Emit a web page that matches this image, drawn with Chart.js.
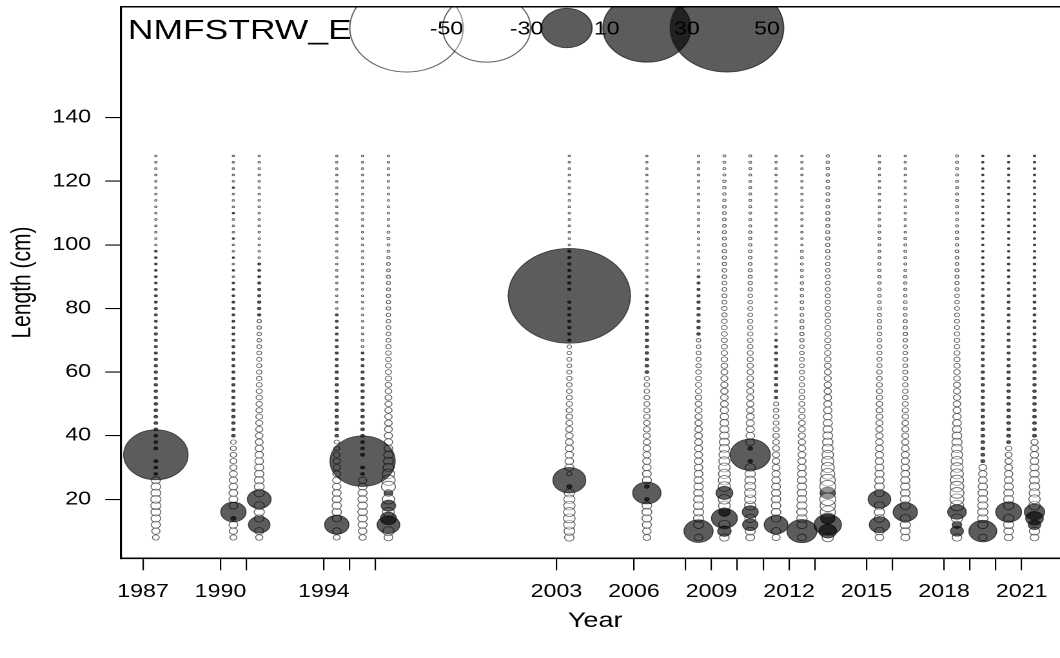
<!DOCTYPE html>
<html>
<head>
<meta charset="utf-8">
<title>NMFSTRW_E length composition residuals</title>
<script src="https://cdn.jsdelivr.net/npm/chart.js@4.4.1/dist/chart.umd.min.js"></script>
<style>
    html, body { margin: 0; padding: 0; background: #fff; overflow: hidden; }
    #wrap { width: 1060px; height: 658px; overflow: hidden; position: relative; }
    /* the source picture is stretched sideways, so draw narrow and stretch */
    #stretch { width: 845px; height: 658px; transform: scaleX(1.2895); transform-origin: 0 0; }
</style>
</head>
<body>
<div id="wrap"><div id="stretch"><canvas id="bubbleChart" width="845" height="658"></canvas></div></div>
<script>
const fleetName = 'NMFSTRW_E';

// survey years (bubbles sit at mid-year)
const years = [1987, 1990, 1991, 1994, 1995, 1996, 2003, 2006, 2008, 2009,
               2010, 2011, 2012, 2013, 2015, 2016, 2018, 2019, 2020, 2021];
const labeledYears = [1987, 1990, 1994, 2003, 2006, 2009, 2012, 2015, 2018, 2021];
const yTicks = [20, 40, 60, 80, 100, 120, 140];

// length bins (cm)
const lengthBins = [8, 10, 12, 14, 16, 18, 20, 22, 24, 26,
                    28, 30, 32, 34, 36, 38, 40, 42, 44, 46,
                    48, 50, 52, 54, 56, 58, 60, 62, 64, 66,
                    68, 70, 72, 74, 76, 78, 80, 82, 84, 86,
                    88, 90, 92, 94, 96, 98, 100, 102, 104, 106,
                    108, 110, 112, 114, 116, 118, 120, 122, 124, 126,
                    128];

// residuals per year, one per length bin (positive = filled, negative = open)
const resid1987 = [-0.18, -0.26, -0.32, -0.36, -0.38, -0.4, -0.4, -0.38, -0.36, -0.32,
    0.05, 0.05, 0.06, 16.1, 0.06, 0.05, 0.05, 0.05, 0.05, 0.05,
    0.05, 0.045, 0.045, 0.04, 0.04, 0.04, 0.04, 0.04, 0.04, 0.035,
    0.035, 0.035, 0.035, 0.03, 0.03, 0.03, 0.03, 0.03, 0.03, 0.03,
    0.025, 0.025, 0.025, 0.025, 0.025, 0.025, -0.02, -0.02, -0.02, -0.02,
    -0.02, -0.02, -0.02, -0.02, -0.02, -0.02, -0.02, -0.02, -0.02, -0.02,
    -0.02];
const resid1990 = [-0.18, -0.26, -0.3, 0.1, 2.5, -0.3, -0.3, -0.3, -0.28, -0.26,
    -0.23, -0.2, -0.18, -0.16, -0.14, -0.12, 0.05, 0.045, 0.045, 0.045,
    0.045, 0.04, 0.04, 0.04, 0.04, 0.04, 0.035, 0.035, 0.035, 0.035,
    0.035, 0.03, 0.03, 0.03, 0.03, 0.03, 0.03, 0.03, 0.025, 0.025,
    0.025, -0.02, 0.02, -0.02, 0.02, -0.02, -0.02, 0.02, -0.02, -0.02,
    -0.02, 0.02, -0.02, -0.02, -0.02, 0.02, -0.02, -0.02, -0.02, -0.02,
    -0.02];
const resid1991 = [-0.2, -0.32, 1.8, -0.36, -0.4, -0.4, 2.2, -0.4, -0.38, -0.36,
    -0.34, -0.32, -0.3, -0.28, -0.26, -0.24, -0.22, -0.2, -0.19, -0.18,
    -0.17, -0.16, -0.15, -0.14, -0.13, -0.12, -0.11, -0.1, -0.1, -0.09,
    -0.09, -0.08, -0.08, -0.07, -0.07, 0.04, 0.04, 0.04, 0.035, 0.035,
    0.035, 0.03, 0.03, 0.03, -0.02, -0.02, -0.02, -0.02, -0.02, -0.02,
    -0.02, -0.02, -0.02, -0.02, -0.02, -0.02, -0.02, -0.02, -0.02, -0.02,
    -0.02];
const resid1994 = [-0.18, -0.28, 2.3, -0.32, -0.34, -0.34, -0.32, -0.3, -0.28, -0.26,
    -0.24, -0.22, -0.2, -0.17, -0.14, -0.1, 0.05, 0.05, 0.045, 0.045,
    0.045, 0.045, 0.04, 0.04, 0.04, 0.04, 0.04, 0.035, 0.035, 0.035,
    0.035, 0.03, 0.03, 0.03, 0.03, 0.03, -0.02, -0.02, -0.02, -0.02,
    -0.02, -0.02, -0.02, -0.02, -0.02, -0.02, -0.02, -0.02, -0.02, -0.02,
    -0.02, -0.02, -0.02, -0.02, -0.02, -0.02, -0.02, -0.02, -0.02, -0.02,
    -0.02];
const resid1995 = [-0.2, -0.28, -0.32, -0.35, -0.36, -0.36, -0.34, -0.32, -0.3, -0.26,
    0.05, 0.06, 16.5, 0.06, 0.05, 0.05, 0.05, 0.05, 0.045, 0.045,
    0.045, 0.04, 0.04, 0.04, 0.04, 0.04, 0.035, 0.035, 0.035, 0.03,
    -0.03, -0.03, -0.02, -0.02, -0.02, -0.02, -0.02, -0.02, -0.02, -0.02,
    -0.02, -0.02, -0.02, -0.02, -0.02, -0.02, -0.02, -0.02, -0.02, -0.02,
    -0.02, -0.02, -0.02, -0.02, -0.02, -0.02, -0.02, -0.02, -0.02, -0.02,
    -0.02];
const resid1996 = [-0.3, -0.5, 2.0, 1.0, -0.55, 0.8, -0.6, 0.3, -0.75, -0.7,
    -0.6, -0.45, -0.38, -0.34, -0.3, -0.28, -0.26, -0.24, -0.22, -0.21,
    -0.2, -0.19, -0.18, -0.17, -0.16, -0.15, -0.14, -0.13, -0.12, -0.12,
    -0.11, -0.1, -0.09, -0.09, -0.08, -0.08, -0.07, -0.07, -0.07, -0.06,
    -0.06, -0.06, -0.05, -0.05, -0.04, -0.03, -0.03, -0.03, -0.03, -0.02,
    -0.02, -0.02, -0.02, -0.02, -0.02, -0.02, -0.02, -0.02, -0.02, -0.02,
    -0.02];
const resid2003 = [-0.35, -0.45, -0.5, -0.52, -0.52, -0.5, -0.48, -0.42, 0.1, 4.2,
    -0.1, -0.32, -0.3, -0.28, -0.26, -0.24, -0.22, -0.2, -0.18, -0.17,
    -0.16, -0.15, -0.14, -0.13, -0.12, -0.11, -0.1, -0.09, -0.09, -0.08,
    -0.08, 0.04, 0.04, 0.04, 0.04, 0.04, 0.04, 0.04, 58, 0.04,
    0.04, 0.04, 0.04, 0.04, 0.04, 0.04, -0.02, -0.02, -0.02, -0.02,
    -0.02, -0.02, -0.02, -0.02, -0.02, -0.02, -0.02, -0.02, -0.02, -0.02,
    -0.02];
const resid2006 = [-0.22, -0.28, -0.32, -0.36, -0.38, -0.36, 0.08, 3.1, 0.08, -0.32,
    -0.3, -0.28, -0.26, -0.24, -0.22, -0.2, -0.19, -0.18, -0.17, -0.16,
    -0.15, -0.14, -0.13, -0.12, -0.11, -0.1, 0.05, 0.05, 0.05, 0.045,
    0.045, 0.045, 0.04, 0.04, 0.04, 0.04, 0.035, 0.035, 0.035, -0.02,
    -0.02, -0.02, -0.02, -0.02, -0.02, -0.02, -0.02, -0.02, -0.02, -0.02,
    -0.02, -0.02, -0.02, -0.02, -0.02, -0.02, -0.02, -0.02, -0.02, -0.02,
    -0.02];
const resid2008 = [-0.28, 3.3, -0.38, -0.4, -0.4, -0.4, -0.38, -0.36, -0.34, -0.32,
    -0.3, -0.28, -0.27, -0.26, -0.25, -0.24, -0.23, -0.22, -0.2, -0.19,
    -0.18, -0.17, -0.16, -0.15, -0.14, -0.13, -0.12, -0.11, -0.1, -0.09,
    -0.08, -0.08, 0.045, 0.045, 0.04, 0.04, 0.04, 0.04, 0.035, 0.035,
    0.035, 0.03, -0.02, -0.02, -0.02, -0.02, -0.02, -0.02, -0.02, -0.02,
    -0.02, -0.02, -0.02, -0.02, -0.02, -0.02, -0.02, -0.02, -0.02, -0.02,
    -0.02];
const resid2009 = [-0.35, 0.7, -0.5, 2.6, 0.5, -0.55, -0.6, 1.1, -0.6, -0.58,
    -0.55, -0.52, -0.48, -0.45, -0.42, -0.39, -0.36, -0.33, -0.3, -0.28,
    -0.26, -0.24, -0.22, -0.21, -0.2, -0.19, -0.18, -0.17, -0.16, -0.15,
    -0.14, -0.13, -0.13, -0.12, -0.12, -0.11, -0.11, -0.1, -0.1, -0.09,
    -0.09, -0.08, -0.08, -0.07, -0.07, -0.07, -0.06, -0.06, -0.06, -0.05,
    -0.05, -0.05, -0.05, -0.04, -0.04, -0.04, -0.04, -0.03, -0.03, -0.03,
    -0.03];
const resid2010 = [-0.3, -0.4, 0.9, -0.45, 1.0, -0.5, -0.5, -0.5, -0.48, -0.45,
    -0.42, -0.4, 0.08, 6.3, 0.08, -0.3, -0.28, -0.26, -0.25, -0.24,
    -0.22, -0.21, -0.2, -0.19, -0.18, -0.17, -0.16, -0.15, -0.14, -0.13,
    -0.12, -0.12, -0.11, -0.1, -0.1, -0.09, -0.09, -0.08, -0.08, -0.07,
    -0.07, -0.06, -0.06, -0.05, -0.05, -0.05, -0.04, -0.04, -0.04, -0.03,
    -0.03, -0.03, -0.03, -0.03, -0.03, -0.03, -0.03, -0.03, -0.03, -0.03,
    -0.03];
const resid2011 = [-0.25, -0.34, 2.2, -0.36, -0.36, -0.35, -0.34, -0.32, -0.3, -0.28,
    -0.26, -0.24, -0.22, -0.2, -0.18, -0.17, -0.16, -0.14, -0.13, -0.12,
    -0.11, -0.1, 0.045, 0.045, 0.04, 0.04, 0.04, 0.04, 0.035, 0.035,
    0.035, 0.03, -0.02, -0.02, -0.02, -0.02, -0.02, -0.02, -0.02, -0.02,
    -0.02, -0.02, -0.02, -0.02, -0.02, -0.02, -0.02, -0.02, -0.02, -0.02,
    -0.02, -0.02, -0.02, -0.02, -0.02, -0.02, -0.02, -0.02, -0.02, -0.02,
    -0.02];
const resid2012 = [-0.3, 3.5, -0.4, -0.42, -0.42, -0.4, -0.38, -0.36, -0.34, -0.32,
    -0.3, -0.28, -0.26, -0.24, -0.22, -0.2, -0.19, -0.18, -0.17, -0.16,
    -0.15, -0.14, -0.13, -0.12, -0.11, -0.1, -0.1, -0.09, -0.09, -0.08,
    -0.08, -0.07, -0.07, -0.06, -0.06, -0.05, -0.05, -0.05, -0.04, -0.04,
    -0.04, -0.03, -0.03, -0.03, -0.03, -0.03, -0.02, -0.02, -0.02, -0.02,
    -0.02, -0.02, -0.02, -0.02, -0.02, -0.02, -0.02, -0.02, -0.02, -0.02,
    -0.02];
const resid2013 = [-0.5, 1.2, 2.9, 0.8, -0.9, -0.9, -1.0, 0.9, -1.0, -0.9,
    -0.75, -0.65, -0.58, -0.52, -0.47, -0.42, -0.38, -0.35, -0.32, -0.29,
    -0.27, -0.25, -0.23, -0.21, -0.2, -0.19, -0.18, -0.17, -0.16, -0.15,
    -0.14, -0.14, -0.13, -0.12, -0.12, -0.11, -0.11, -0.1, -0.1, -0.09,
    -0.09, -0.09, -0.08, -0.08, -0.08, -0.07, -0.07, -0.07, -0.06, -0.06,
    -0.06, -0.06, -0.05, -0.05, -0.05, -0.05, -0.04, -0.04, -0.04, -0.04,
    -0.04];
const resid2015 = [-0.28, -0.36, 1.6, -0.42, -0.42, -0.4, 2.0, -0.38, -0.36, -0.34,
    -0.32, -0.3, -0.28, -0.26, -0.24, -0.22, -0.21, -0.2, -0.19, -0.18,
    -0.17, -0.16, -0.15, -0.14, -0.13, -0.12, -0.11, -0.1, -0.1, -0.09,
    -0.09, -0.08, -0.08, -0.07, -0.07, -0.06, -0.06, -0.05, -0.05, -0.05,
    -0.04, -0.04, -0.04, -0.04, -0.03, -0.03, -0.03, -0.03, -0.03, -0.03,
    -0.02, -0.02, -0.02, -0.02, -0.02, -0.02, -0.02, -0.02, -0.02, -0.02,
    -0.02];
const resid2016 = [-0.3, -0.36, -0.4, -0.42, 2.3, -0.4, -0.38, -0.36, -0.34, -0.32,
    -0.3, -0.28, -0.26, -0.24, -0.22, -0.2, -0.19, -0.18, -0.17, -0.16,
    -0.15, -0.14, -0.13, -0.12, -0.11, -0.1, -0.1, -0.09, -0.09, -0.08,
    -0.08, -0.07, -0.07, -0.06, -0.06, -0.05, -0.05, -0.05, -0.04, -0.04,
    -0.04, -0.04, -0.03, -0.03, -0.03, -0.03, -0.03, -0.03, -0.02, -0.02,
    -0.02, -0.02, -0.02, -0.02, -0.02, -0.02, -0.02, -0.02, -0.02, -0.02,
    -0.02];
const resid2018 = [-0.35, 0.65, 0.35, -0.5, 1.35, -0.7, -0.75, -0.75, -0.72, -0.68,
    -0.64, -0.6, -0.55, -0.5, -0.45, -0.4, -0.36, -0.32, -0.29, -0.26,
    -0.24, -0.22, -0.2, -0.19, -0.18, -0.17, -0.16, -0.15, -0.14, -0.13,
    -0.12, -0.12, -0.11, -0.1, -0.1, -0.09, -0.09, -0.08, -0.08, -0.07,
    -0.07, -0.06, -0.06, -0.05, -0.05, -0.05, -0.04, -0.04, -0.04, -0.03,
    -0.03, -0.03, -0.03, -0.03, -0.03, -0.03, -0.03, -0.03, -0.03, -0.03,
    -0.03];
const resid2019 = [-0.28, 3.0, -0.4, -0.42, -0.42, -0.4, -0.38, -0.36, -0.33, -0.3,
    -0.27, -0.24, 0.06, 0.055, 0.055, 0.05, 0.05, 0.05, 0.045, 0.045,
    0.045, 0.045, 0.04, 0.04, 0.04, 0.04, 0.04, 0.035, 0.035, 0.035,
    0.035, 0.035, 0.03, 0.03, 0.03, 0.03, 0.03, 0.03, 0.03, 0.025,
    0.025, 0.025, 0.025, 0.025, 0.025, 0.02, 0.02, 0.02, 0.02, 0.02,
    0.02, 0.02, 0.02, 0.02, 0.02, 0.02, 0.02, 0.02, 0.02, 0.02,
    0.02];
const resid2020 = [-0.28, -0.36, -0.4, -0.42, 2.6, -0.42, -0.4, -0.37, -0.34, -0.3,
    -0.27, -0.24, -0.21, -0.18, -0.15, 0.055, 0.055, 0.05, 0.05, 0.05,
    0.045, 0.045, 0.045, 0.045, 0.04, 0.04, 0.04, 0.04, 0.035, 0.035,
    0.035, 0.035, 0.03, 0.03, 0.03, 0.03, 0.03, 0.03, 0.03, 0.025,
    0.025, 0.025, 0.025, 0.025, 0.025, 0.02, 0.02, 0.02, 0.02, 0.02,
    0.02, 0.02, 0.02, 0.02, 0.02, 0.02, 0.02, 0.02, 0.02, 0.02,
    0.02];
const resid2021 = [-0.3, -0.4, 0.6, 1.2, 1.6, -0.5, -0.5, -0.45, -0.42, -0.38,
    -0.35, -0.32, -0.3, -0.27, -0.24, -0.2, 0.055, 0.05, 0.05, 0.05,
    0.045, 0.045, 0.045, 0.045, 0.04, 0.04, 0.04, 0.04, 0.035, 0.035,
    0.035, 0.035, 0.03, 0.03, 0.03, 0.03, 0.03, 0.03, 0.03, 0.025,
    0.025, 0.025, 0.025, 0.025, 0.025, 0.02, 0.02, 0.02, 0.02, 0.02,
    0.02, 0.02, 0.02, 0.02, 0.02, 0.02, 0.02, 0.02, 0.02, 0.02,
    0.02];

const residuals = [resid1987, resid1990, resid1991, resid1994, resid1995, resid1996,
    resid2003, resid2006, resid2008, resid2009, resid2010, resid2011, resid2012,
    resid2013, resid2015, resid2016, resid2018, resid2019, resid2020, resid2021];

// bubble legend
const legendValues = [-50, -30, 10, 30, 50];
const legendStartYear = 1997.2;
const legendStepYears = 3.1;
const legendLength = 168.2;

const FONT = '"Liberation Sans", Arial, Helvetica, sans-serif';
const MAX_RADIUS = 44;   // radius (px) of a residual of 50
const REF_RESID = 50;

const POS_FILL = 'rgba(0, 0, 0, 0.64)';
const POS_EDGE = 'rgba(25, 25, 25, 0.75)';
const NEG_FILL = 'rgba(255, 255, 255, 0.35)';
const NEG_EDGE = 'rgba(60, 60, 60, 0.8)';

function radiusFor(v) {
    return MAX_RADIUS * Math.sqrt(Math.abs(v) / REF_RESID);
}

function buildPoints() {
    const pts = [];
    years.forEach((yr, j) => {
        residuals[j].forEach((v, i) => {
            pts.push({ x: yr + 0.5, y: lengthBins[i], r: radiusFor(v), v: v });
        });
    });
    // small bubbles first so the large ones sit on top
    pts.sort((a, b) => Math.abs(a.v) - Math.abs(b.v));
    return pts;
}

const extrasPlugin = {
    id: 'extras',
    afterDraw(chart) {
        const { ctx, chartArea: a, scales } = chart;

        // legend, clipped to the plot box like the original
        ctx.save();
        ctx.beginPath();
        ctx.rect(a.left, a.top, a.right - a.left, a.bottom - a.top);
        ctx.clip();
        const cy = scales.y.getPixelForValue(legendLength);
        const centers = legendValues.map((v, i) => scales.x.getPixelForValue(legendStartYear + i * legendStepYears));
        ctx.lineWidth = 1;
        legendValues.forEach((v, i) => {
            ctx.beginPath();
            ctx.arc(centers[i], cy, radiusFor(v), 0, Math.PI * 2);
            ctx.fillStyle = v > 0 ? POS_FILL : NEG_FILL;
            ctx.strokeStyle = v > 0 ? POS_EDGE : NEG_EDGE;
            ctx.fill();
            ctx.stroke();
        });
        ctx.fillStyle = '#000';
        ctx.font = '18px ' + FONT;
        ctx.textAlign = 'center';
        ctx.textBaseline = 'middle';
        legendValues.forEach((v, i) => {
            ctx.fillText(String(v), centers[i] + 31, cy + 1.5);
        });
        ctx.restore();

        ctx.save();
        // top frame line
        ctx.strokeStyle = '#000';
        ctx.lineWidth = 1.5;
        ctx.beginPath();
        ctx.moveTo(a.left, a.top);
        ctx.lineTo(a.right, a.top);
        ctx.stroke();

        // fleet name
        ctx.fillStyle = '#000';
        ctx.font = '27.5px ' + FONT;
        ctx.textAlign = 'left';
        ctx.textBaseline = 'alphabetic';
        ctx.fillText(fleetName, a.left + 5.5, 39);
        ctx.restore();
    }
};

const ctx = document.getElementById('bubbleChart').getContext('2d');
new Chart(ctx, {
    type: 'bubble',
    data: {
        datasets: [{
            label: fleetName,
            data: buildPoints(),
            backgroundColor: c => (c.raw && c.raw.v > 0) ? POS_FILL : NEG_FILL,
            borderColor: c => (c.raw && c.raw.v > 0) ? POS_EDGE : NEG_EDGE,
            borderWidth: 0.8
        }]
    },
    options: {
        responsive: false,
        animation: false,
        devicePixelRatio: 2,
        events: [],
        layout: {
            autoPadding: false,
            padding: { left: 0, right: 15.5, top: 6.7, bottom: 0 }
        },
        plugins: {
            legend: { display: false },
            tooltip: { enabled: false }
        },
        scales: {
            x: {
                type: 'linear',
                min: 1986.14,
                max: 2022.86,
                afterBuildTicks: scale => {
                    scale.ticks = years.map(v => ({ value: v }));
                },
                afterFit: scale => {
                    scale.height = 99.7;
                    scale.paddingLeft = 0;
                    scale.paddingRight = 0;
                },
                grid: {
                    drawOnChartArea: false,
                    drawTicks: true,
                    tickLength: 12,
                    color: '#000',
                    lineWidth: 1.1
                },
                border: { display: true, color: '#000', width: 1.6 },
                ticks: {
                    autoSkip: false,
                    maxRotation: 0,
                    padding: 11,
                    color: '#000',
                    font: { family: FONT, size: 18 },
                    callback: v => labeledYears.includes(v) ? String(v) : ''
                },
                title: {
                    display: true,
                    text: 'Year',
                    color: '#000',
                    font: { family: FONT, size: 21 },
                    padding: { top: 0, bottom: 24 }
                }
            },
            y: {
                type: 'linear',
                min: 1.45,
                max: 174.9,
                afterBuildTicks: scale => {
                    scale.ticks = yTicks.map(v => ({ value: v }));
                },
                afterFit: scale => {
                    scale.width = 93.6;
                    scale.paddingTop = 0;
                    scale.paddingBottom = 0;
                },
                grid: {
                    drawOnChartArea: false,
                    drawTicks: true,
                    tickLength: 12,
                    color: '#000',
                    lineWidth: 1.1
                },
                border: { display: true, color: '#000', width: 1.6 },
                ticks: {
                    padding: 11,
                    color: '#000',
                    font: { family: FONT, size: 18 }
                },
                title: {
                    display: true,
                    text: 'Length (cm)',
                    color: '#000',
                    font: { family: FONT, size: 21 },
                    padding: { top: 5, bottom: 0 }
                }
            }
        }
    },
    plugins: [extrasPlugin]
});
</script>
</body>
</html>
